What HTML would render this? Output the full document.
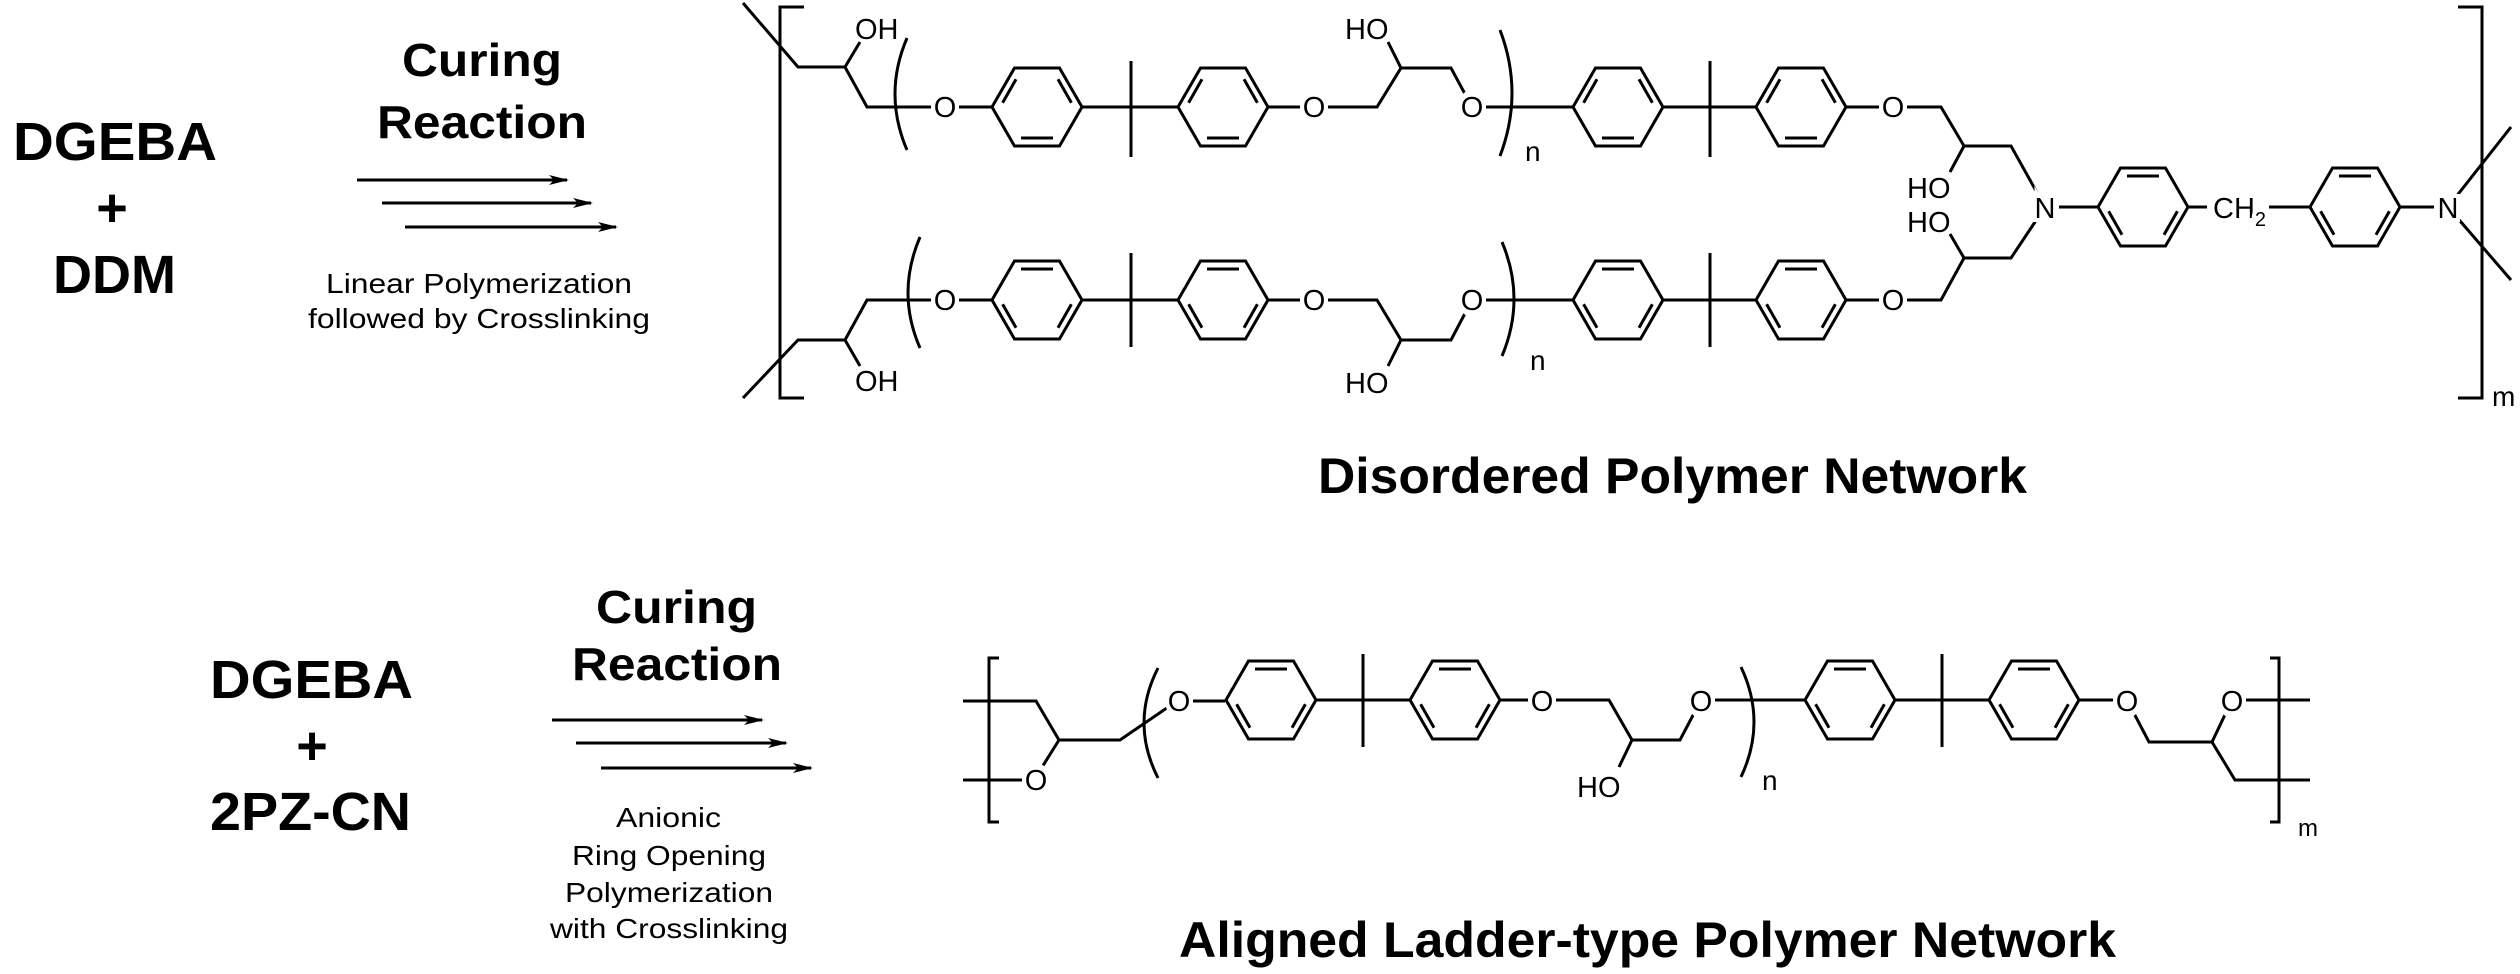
<!DOCTYPE html>
<html><head><meta charset="utf-8"><style>
html,body{margin:0;padding:0;background:#fff;}
svg{display:block;}
text{font-family:"Liberation Sans",Arial,sans-serif;fill:#000;}
.b{font-weight:bold;}
.at{font-size:29px;stroke:#fff;stroke-width:8px;paint-order:stroke;}
</style></head><body>
<svg width="2520" height="974" viewBox="0 0 2520 974" xmlns="http://www.w3.org/2000/svg">
<defs>
<g id="rA" fill="none" stroke="#000" stroke-width="3">
<polygon points="-45,0 -22.5,-39 22.5,-39 45,0 22.5,39 -22.5,39"/>
<line x1="-34.4" y1="-4.3" x2="-21" y2="-27.7"/>
<line x1="34.4" y1="-4.3" x2="21" y2="-27.7"/>
<line x1="-16" y1="31" x2="16" y2="31"/>
</g>
<g id="rB" fill="none" stroke="#000" stroke-width="3">
<polygon points="-45,0 -22.5,-39 22.5,-39 45,0 22.5,39 -22.5,39"/>
<line x1="-16" y1="-31" x2="16" y2="-31"/>
<line x1="-34.4" y1="4.3" x2="-21" y2="27.7"/>
<line x1="34.4" y1="4.3" x2="21" y2="27.7"/>
</g>
<ellipse id="wb" cx="0" cy="0" rx="14" ry="17" fill="#fff"/>
<marker id="ah" markerWidth="20" markerHeight="10" refX="18" refY="5" orient="auto" markerUnits="userSpaceOnUse"><path d="M0,0 L20,5 L0,10 L5,5 Z" fill="#000"/></marker>
</defs>

<!-- LEFT TOP -->
<text class="b" x="13" y="160" font-size="54" textLength="204" lengthAdjust="spacingAndGlyphs">DGEBA</text>
<text class="b" x="112" y="226" font-size="54" text-anchor="middle">+</text>
<text class="b" x="53" y="293" font-size="54" textLength="123" lengthAdjust="spacingAndGlyphs">DDM</text>
<text class="b" x="402" y="76" font-size="46" textLength="160" lengthAdjust="spacingAndGlyphs">Curing</text>
<text class="b" x="377" y="138" font-size="46" textLength="210" lengthAdjust="spacingAndGlyphs">Reaction</text>
<g stroke="#000" stroke-width="3" marker-end="url(#ah)">
<line x1="357" y1="180" x2="567" y2="180"/>
<line x1="382" y1="203" x2="591" y2="203"/>
<line x1="405" y1="227" x2="616" y2="227"/>
</g>
<text x="326" y="293" font-size="28" textLength="306" lengthAdjust="spacingAndGlyphs">Linear Polymerization</text>
<text x="308" y="328" font-size="28" textLength="342" lengthAdjust="spacingAndGlyphs">followed by Crosslinking</text>

<!-- LEFT BOTTOM -->
<text class="b" x="210" y="698" font-size="54" textLength="203" lengthAdjust="spacingAndGlyphs">DGEBA</text>
<text class="b" x="312" y="764" font-size="54" text-anchor="middle">+</text>
<text class="b" x="210" y="830" font-size="54" textLength="201" lengthAdjust="spacingAndGlyphs">2PZ-CN</text>
<text class="b" x="596" y="623" font-size="46" textLength="161" lengthAdjust="spacingAndGlyphs">Curing</text>
<text class="b" x="572" y="680" font-size="46" textLength="210" lengthAdjust="spacingAndGlyphs">Reaction</text>
<g stroke="#000" stroke-width="3" marker-end="url(#ah)">
<line x1="552" y1="720" x2="762" y2="720"/>
<line x1="576" y1="743" x2="786" y2="743"/>
<line x1="601" y1="768" x2="811" y2="768"/>
</g>
<text x="616" y="827" font-size="28" textLength="105" lengthAdjust="spacingAndGlyphs">Anionic</text>
<text x="572" y="865" font-size="28" textLength="194" lengthAdjust="spacingAndGlyphs">Ring Opening</text>
<text x="565" y="902" font-size="28" textLength="208" lengthAdjust="spacingAndGlyphs">Polymerization</text>
<text x="550" y="938" font-size="28" textLength="238" lengthAdjust="spacingAndGlyphs">with Crosslinking</text>

<!-- TOP STRUCTURE -->
<g fill="none" stroke="#000" stroke-width="3">
<path d="M804,7 H780 V398 H804"/>
<path d="M743,3 L798,67 L845,67 L867,107 L993,107"/>
<path d="M845,67 L860,42"/>
<path d="M907,38 Q883,94 907,150"/>
<path d="M1082,107 H1179 M1131,61 V157"/>
<path d="M1268,107 H1377 L1401,68 L1451,68 L1472,107 H1575"/>
<path d="M1401,68 L1388,42"/>
<path d="M1500,30 Q1524,93 1500,156"/>
<path d="M1661,107 H1756 M1710,61 V157"/>
<path d="M1846,107 H1941 L1964,146 L2011,146 L2045,207 L2011,258 L1964,258 L1941,300 H1846"/>
<path d="M1964,146 L1950,172 M1964,258 L1950,234"/>
<path d="M743,398 L798,340 L845,340 L867,300 L993,300"/>
<path d="M845,340 L860,366"/>
<path d="M920,237 Q896,293 920,348"/>
<path d="M1082,300 H1179 M1131,253 V347"/>
<path d="M1268,300 H1377 L1401,340 L1451,340 L1472,300 H1575"/>
<path d="M1401,340 L1388,366"/>
<path d="M1502,242 Q1526,299 1502,356"/>
<path d="M1661,300 H1756 M1710,253 V347"/>
<path d="M2045,207 H2098 M2188,207 H2310 M2400,207 H2448 L2511,127 M2448,207 L2511,280"/>
<path d="M2458,7 H2482 V398 H2458"/>
</g>
<use href="#rA" x="1037" y="107"/><use href="#rA" x="1223" y="107"/>
<use href="#rA" x="1618" y="107"/><use href="#rA" x="1801" y="107"/>
<use href="#rB" x="1037" y="300"/><use href="#rB" x="1223" y="300"/>
<use href="#rB" x="1618" y="300"/><use href="#rB" x="1801" y="300"/>
<use href="#rB" x="2143" y="207"/><use href="#rB" x="2355" y="207"/>
<use href="#wb" x="945" y="107"/><use href="#wb" x="1314" y="107"/><use href="#wb" x="1472" y="107"/><use href="#wb" x="1893" y="107"/>
<use href="#wb" x="945" y="300"/><use href="#wb" x="1314" y="300"/><use href="#wb" x="1472" y="300"/><use href="#wb" x="1893" y="300"/>
<use href="#wb" x="2045" y="207"/><use href="#wb" x="2448" y="207"/>
<rect x="2207" y="190" width="62" height="36" fill="#fff"/>
<g class="at" text-anchor="middle">
<text x="945" y="117">O</text><text x="1314" y="117">O</text><text x="1472" y="117">O</text><text x="1893" y="117">O</text>
<text x="945" y="310">O</text><text x="1314" y="310">O</text><text x="1472" y="310">O</text><text x="1893" y="310">O</text>
<text x="2045" y="218">N</text><text x="2448" y="218">N</text>
</g>
<g class="at">
<text x="855" y="39">OH</text><text x="1345" y="39">HO</text>
<text x="855" y="391">OH</text><text x="1345" y="393">HO</text>
<text x="1907" y="198">HO</text><text x="1907" y="232">HO</text>
<text x="2213" y="218">CH<tspan font-size="20" dy="8">2</tspan></text>
</g>
<text x="1525" y="161" font-size="28">n</text>
<text x="1530" y="370" font-size="28">n</text>
<text x="2492" y="406" font-size="28">m</text>
<text class="b" x="1318" y="493" font-size="50" textLength="709" lengthAdjust="spacingAndGlyphs">Disordered Polymer Network</text>

<!-- BOTTOM STRUCTURE -->
<g fill="none" stroke="#000" stroke-width="3">
<path d="M999,658 H989 V822 H999"/>
<path d="M963,701 H1036 L1059,740 L1120,740 L1177,701 H1225"/>
<path d="M1059,740 L1034,780 H963"/>
<path d="M1158,668 Q1130,723 1158,778"/>
<path d="M1317,700 H1409 M1363,654 V747"/>
<path d="M1501,700 H1609 L1632,740 L1680,740 L1701,700 H1804"/>
<path d="M1632,740 L1619,767"/>
<path d="M1741,667 Q1767,722 1741,777"/>
<path d="M1896,700 H1988 M1942,654 V747"/>
<path d="M2080,700 H2127 L2149,742 L2212,742 L2232,700 H2310"/>
<path d="M2212,742 L2235,780 H2310"/>
<path d="M2270,658 H2279 V822 H2270"/>
</g>
<use href="#rB" x="1271" y="700"/><use href="#rB" x="1455" y="700"/>
<use href="#rB" x="1850" y="700"/><use href="#rB" x="2034" y="700"/>
<use href="#wb" x="1036" y="780"/><use href="#wb" x="1179" y="701"/><use href="#wb" x="1542" y="701"/>
<use href="#wb" x="1701" y="701"/><use href="#wb" x="2127" y="701"/><use href="#wb" x="2232" y="701"/>
<g class="at" text-anchor="middle">
<text x="1036" y="790">O</text><text x="1179" y="711">O</text><text x="1542" y="711">O</text>
<text x="1701" y="711">O</text><text x="2127" y="711">O</text><text x="2232" y="711">O</text>
</g>
<text class="at" x="1577" y="797">HO</text>
<text x="1762" y="790" font-size="28">n</text>
<text x="2298" y="836" font-size="24">m</text>
<text class="b" x="1179" y="957" font-size="50" textLength="937" lengthAdjust="spacingAndGlyphs">Aligned Ladder-type Polymer Network</text>
</svg>
</body></html>
